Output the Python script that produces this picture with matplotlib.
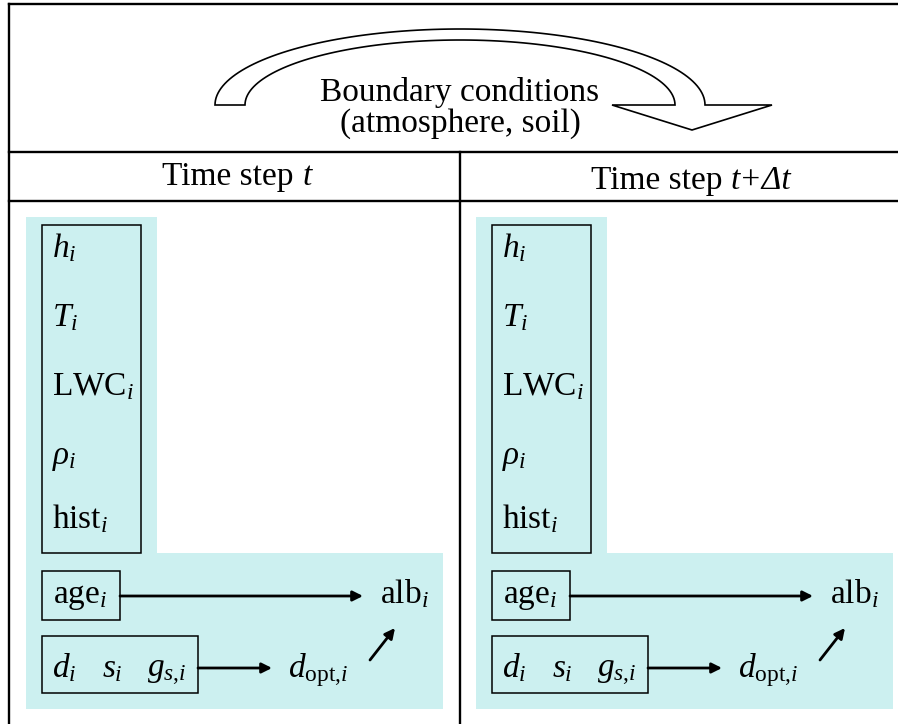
import numpy as np
import matplotlib
matplotlib.use('Agg')
import matplotlib.pyplot as plt
from matplotlib.patches import Rectangle, Polygon

plt.rcParams['font.family'] = 'Liberation Serif'
plt.rcParams['mathtext.fontset'] = 'custom'
plt.rcParams['mathtext.rm'] = 'Liberation Serif'
plt.rcParams['mathtext.it'] = 'Liberation Serif:italic'
plt.rcParams['mathtext.bf'] = 'Liberation Serif:bold'

# diagram content
header = ['Boundary conditions', '(atmosphere, soil)']
step_titles = [('Time step ', 't'), ('Time step ', 't+Δt')]
state_vars = [r'$h_i$', r'$T_i$', r'$\mathrm{LWC}_i$', r'$\rho_i$', r'$\mathrm{hist}_i$']
grain_vars = [r'$d_i$', r'$s_i$', r'$g_{s{,}i}$']
age_label = r'$\mathrm{age}_i$'
albedo_label = r'$\mathrm{alb}_i$'
dopt_label = r'$d_{\mathrm{opt}{,}i}$'
panel_shift = [0, 450]

W, H = 898, 724
cyan = '#ccf0f0'
fs = 24

fig = plt.figure(figsize=(W / 100, H / 100), dpi=100)
ax = fig.add_axes([0, 0, 1, 1])
ax.set_xlim(0, W)
ax.set_ylim(H, 0)
ax.axis('off')

# table frame
lw_frame = 1.7
ax.plot([9, W], [4, 4], color='black', lw=lw_frame)
ax.plot([9, 9], [4, H], color='black', lw=lw_frame)
ax.plot([9, W], [152, 152], color='black', lw=lw_frame)
ax.plot([9, W], [201, 201], color='black', lw=lw_frame)
ax.plot([460, 460], [152, H], color='black', lw=lw_frame)

# curved block arrow (half ellipses)
cx, base = 460, 105
th = np.linspace(np.pi, 0, 100)
outer = np.c_[cx + 245 * np.cos(th), base - 76 * np.sin(th)]
inner = np.c_[cx + 215 * np.cos(th[::-1]), base - 65 * np.sin(th[::-1])]
head = np.array([[772, 105], [692, 130], [612, 105]])
pts = np.vstack([outer, head, inner])
ax.add_patch(Polygon(pts, closed=True, facecolor='white', edgecolor='black', lw=1.2))

ax.text(cx, 101, header[0], ha='center', va='baseline', fontsize=fs)
ax.text(cx, 132, header[1], ha='center', va='baseline', fontsize=fs)

# time step titles: upright prefix + italic part, centred together
title_pos = [(237, 185), (691, 189)]
fig.canvas.draw()
renderer = fig.canvas.get_renderer()
for (pre, it), (tx, ty) in zip(step_titles, title_pos):
    t1 = ax.text(0, ty, pre, ha='left', va='baseline', fontsize=fs)
    t2 = ax.text(0, ty, it, ha='left', va='baseline', fontsize=fs, style='italic')
    w1 = t1.get_window_extent(renderer).width
    w2 = t2.get_window_extent(renderer).width
    x0 = tx - (w1 + w2) / 2
    t1.set_x(x0)
    t2.set_x(x0 + w1)

arrow_kw = dict(arrowstyle='-|>', lw=2, color='black', mutation_scale=15,
                shrinkA=0, shrinkB=0)

for dx in panel_shift:
    # light blue L-shaped background
    bg = [(26, 217), (157, 217), (157, 553), (443, 553), (443, 709), (26, 709)]
    ax.add_patch(Polygon([(x + dx, y) for x, y in bg], closed=True,
                         facecolor=cyan, edgecolor='none'))

    # state variable box
    ax.add_patch(Rectangle((42 + dx, 225), 99, 328, facecolor='none',
                           edgecolor='black', lw=1.1))
    for lab, yb in zip(state_vars, [257, 326, 395, 464, 528]):
        ax.text(52 + dx, yb, lab, ha='left', va='baseline', fontsize=fs)

    # age box
    ax.add_patch(Rectangle((42 + dx, 571), 78, 49, facecolor='none',
                           edgecolor='black', lw=1.1))
    ax.text(53 + dx, 603, age_label, ha='left', va='baseline', fontsize=fs)

    # grain box
    ax.add_patch(Rectangle((42 + dx, 636), 156, 57, facecolor='none',
                           edgecolor='black', lw=1.1))
    for lab, xl in zip(grain_vars, [52, 102, 147]):
        ax.text(xl + dx, 677, lab, ha='left', va='baseline', fontsize=fs)

    ax.text(380 + dx, 603, albedo_label, ha='left', va='baseline', fontsize=fs)
    ax.text(288 + dx, 677, dopt_label, ha='left', va='baseline', fontsize=fs)

    ax.annotate('', xy=(363 + dx, 596), xytext=(120 + dx, 596), arrowprops=arrow_kw)
    ax.annotate('', xy=(272 + dx, 668), xytext=(198 + dx, 668), arrowprops=arrow_kw)
    ax.annotate('', xy=(395 + dx, 628), xytext=(370 + dx, 660), arrowprops=arrow_kw)

fig.savefig('out.png', dpi=100)
